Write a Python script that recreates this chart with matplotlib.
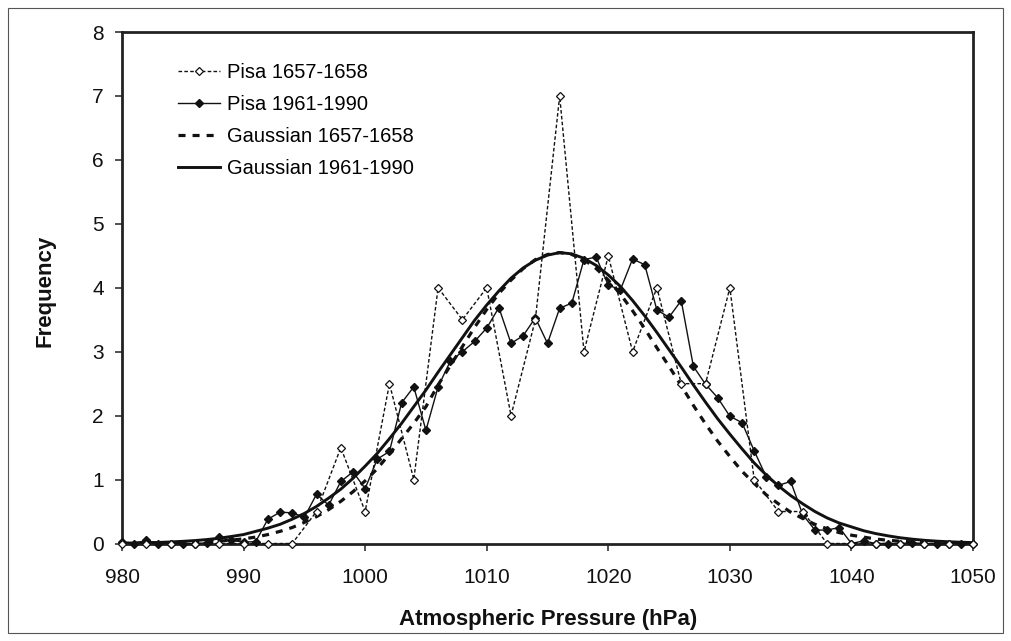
import numpy as np
import matplotlib
matplotlib.use("Agg")
import matplotlib.pyplot as plt
from matplotlib.patches import Rectangle

plt.rcParams['font.family'] = ['Liberation Sans', 'DejaVu Sans']

# ---- data ----
p_1657 = list(range(980, 1051, 2))
f_1657 = [0, 0, 0, 0, 0, 0, 0, 0, 0.5, 1.5, 0.5, 2.5, 1.0, 4.0, 3.5, 4.0, 2.0, 3.5,
          7.0, 3.0, 4.5, 3.0, 4.0, 2.5, 2.5, 4.0, 1.0, 0.5, 0.5, 0, 0, 0, 0, 0, 0, 0]

p_1961 = list(range(980, 1051))
f_1961 = [0.02, 0, 0.05, 0, 0, 0, 0, 0.01, 0.10, 0.05, 0.02, 0.03, 0.38, 0.49, 0.48, 0.41,
          0.77, 0.60, 0.97, 1.12, 0.86, 1.32, 1.44, 2.20, 2.45, 1.77, 2.45, 2.85, 3.00, 3.16,
          3.37, 3.69, 3.13, 3.25, 3.53, 3.13, 3.68, 3.76, 4.44, 4.48, 4.04, 3.97, 4.45, 4.36,
          3.65, 3.54, 3.80, 2.77, 2.49, 2.28, 1.99, 1.89, 1.45, 1.04, 0.91, 0.97, 0.45, 0.21,
          0.21, 0.25, 0, 0.04, 0, 0, 0, 0.01, 0, 0, 0, 0, 0]

gauss_1657 = [0.001, 0.002, 0.003, 0.005, 0.008, 0.012, 0.018, 0.026, 0.037, 0.052, 0.073,
              0.10, 0.14, 0.19, 0.25, 0.33, 0.42, 0.53, 0.66, 0.81, 0.98, 1.17, 1.40, 1.64,
              1.88, 2.14, 2.48, 2.78, 3.08, 3.38, 3.66, 3.91, 4.12, 4.30, 4.44, 4.52, 4.55,
              4.52, 4.44, 4.30, 4.12, 3.90, 3.64, 3.36, 3.06, 2.77, 2.47, 2.16, 1.87, 1.60,
              1.36, 1.13, 0.94, 0.76, 0.62, 0.49, 0.39, 0.30, 0.23, 0.17, 0.13, 0.10, 0.07,
              0.05, 0.036, 0.025, 0.018, 0.012, 0.008, 0.005, 0.003]

gauss_1961 = [0.006, 0.008, 0.012, 0.017, 0.024, 0.034, 0.046, 0.062, 0.083, 0.11, 0.14,
              0.19, 0.24, 0.30, 0.38, 0.47, 0.58, 0.71, 0.85, 1.02, 1.21, 1.41, 1.64, 1.88,
              2.14, 2.40, 2.68, 2.95, 3.22, 3.49, 3.73, 3.95, 4.15, 4.31, 4.43, 4.51, 4.55,
              4.53, 4.46, 4.35, 4.20, 4.02, 3.80, 3.56, 3.30, 3.03, 2.76, 2.48, 2.21, 1.95,
              1.71, 1.48, 1.26, 1.07, 0.90, 0.75, 0.62, 0.50, 0.40, 0.32, 0.26, 0.20, 0.155,
              0.12, 0.09, 0.068, 0.05, 0.037, 0.027, 0.02, 0.014]

labels = ["Pisa 1657-1658", "Pisa 1961-1990", "Gaussian 1657-1658", "Gaussian 1961-1990"]
x_ticks = list(range(980, 1051, 10))
y_ticks = list(range(0, 9))

# ---- figure ----
W, H = 1011, 641
fig = plt.figure(figsize=(W / 100, H / 100), dpi=100)
ax = fig.add_axes([122 / W, 1 - 543.5 / H, (973 - 122) / W, (543.5 - 32) / H])

ink = '#111111'
l1, = ax.plot(p_1657, f_1657, linestyle=(0, (2.6, 1.6)), lw=1.0, color=ink,
              marker='D', markersize=3.6, markerfacecolor='white', markeredgecolor=ink,
              markeredgewidth=0.9, clip_on=False, zorder=4)
l2, = ax.plot(p_1961, f_1961, linestyle='-', lw=1.0, color=ink,
              marker='D', markersize=4.2, markerfacecolor=ink, markeredgecolor=ink,
              clip_on=False, zorder=3)
l3, = ax.plot(p_1961, gauss_1657, linestyle=(0, (2.2, 2.2)), lw=2.3, color=ink,
              clip_on=False, zorder=2)
l4, = ax.plot(p_1961, gauss_1961, linestyle='-', lw=2.1, color=ink,
              clip_on=False, zorder=2)

ax.set_xlim(980, 1050)
ax.set_ylim(0, 8)
ax.set_xticks(x_ticks)
ax.set_yticks(y_ticks)
ax.tick_params(axis='both', direction='out', length=5, width=1.2, color='#333333',
               labelsize=15, labelcolor='#111111')
ax.tick_params(axis='x', pad=12.5)
ax.tick_params(axis='y', pad=8)
for s in ax.spines.values():
    s.set_linewidth(2.0)
    s.set_color('#222222')

leg = ax.legend([l1, l2, l3, l4], labels, loc='upper left',
                bbox_to_anchor=(0.056, 0.955), frameon=False, fontsize=14.5,
                handlelength=2.1, handletextpad=0.35, labelspacing=0.65,
                borderaxespad=0)

fig.text(548 / W, 1 - 620 / H, "Atmospheric Pressure (hPa)", ha='center', va='center',
         fontsize=16, fontweight='bold', color='#111111')
fig.text(45 / W, 1 - 291 / H, "Frequency", ha='center', va='center', rotation=90,
         fontsize=16, fontweight='bold', color='#111111')

fig.patches.append(Rectangle((8 / W, 8 / H), (1003 - 8) / W, (633 - 8) / H,
                             transform=fig.transFigure, fill=False, lw=0.8,
                             edgecolor='#555555'))

fig.savefig("out.png", dpi=100)
